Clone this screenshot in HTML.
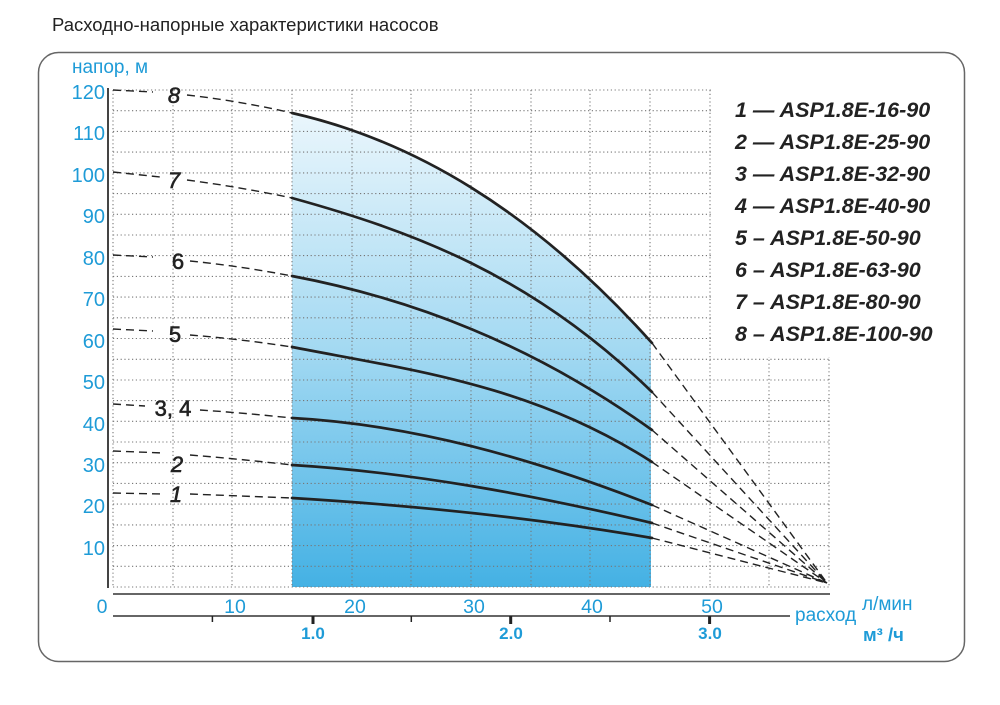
<!DOCTYPE html>
<html><head><meta charset="utf-8"><style>
html,body{margin:0;padding:0;background:#fff;}
svg{display:block;}
</style></head><body>
<svg width="1000" height="705" viewBox="0 0 1000 705" xmlns="http://www.w3.org/2000/svg">
<defs>
<linearGradient id="g" x1="0" y1="113" x2="0" y2="587" gradientUnits="userSpaceOnUse">
<stop offset="0" stop-color="#eaf6fc"/>
<stop offset="0.5" stop-color="#a3d9f2"/>
<stop offset="1" stop-color="#44b1e4"/>
</linearGradient>
</defs>
<text x="52" y="31" font-family="Liberation Sans, sans-serif" font-size="18.5" fill="#222">Расходно-напорные характеристики насосов</text>
<rect x="38.5" y="52.5" width="926" height="609" rx="20" ry="20" fill="none" stroke="#666" stroke-width="1.5"/>
<text x="72" y="73" font-family="Liberation Sans, sans-serif" font-size="19" fill="#1e9bd7">напор, м</text>

<!-- shaded region -->
<path d="M292,113 C412,140.2 532,209.3 652,343 L651,343 L651,587 L292,587 Z" fill="url(#g)"/>

<!-- grid -->
<g stroke="#777" stroke-width="1.1" stroke-dasharray="1.2 2.6" fill="none">
<path d="M113,90H829 M113,110.7H829 M113,131.4H829 M113,152.1H829 M113,172.9H829 M113,193.6H829 M113,214.3H829 M113,235H829 M113,255.6H829 M113,276.4H829 M113,297.1H829 M113,317.8H829 M113,338.5H829 M113,359.3H829 M113,380H829 M113,400.6H829 M113,421.3H829 M113,442H829 M113,462.7H829 M113,483.4H829 M113,504.1H829 M113,524.9H829 M113,545.6H829 M113,566.3H829 M113,587H829"/>
<path d="M113,90V587 M173,90V587 M232,90V587 M292,90V587 M352,90V587 M411,90V587 M471,90V587 M531,90V587 M590,90V587 M650,90V587 M710,90V587 M769,90V587 M829,90V587"/>
</g>

<!-- legend box -->
<rect x="711" y="84" width="252" height="273" fill="#fff"/>
<g font-family="Liberation Sans, sans-serif" font-size="21.5" font-style="italic" font-weight="bold" fill="#222">
<text x="735" y="117">1 — ASP1.8E-16-90</text>
<text x="735" y="149">2 — ASP1.8E-25-90</text>
<text x="735" y="181">3 — ASP1.8E-32-90</text>
<text x="735" y="213">4 — ASP1.8E-40-90</text>
<text x="735" y="245">5 – ASP1.8E-50-90</text>
<text x="735" y="277">6 – ASP1.8E-63-90</text>
<text x="735" y="309">7 – ASP1.8E-80-90</text>
<text x="735" y="341">8 – ASP1.8E-100-90</text>
</g>

<!-- axes -->
<line x1="108" y1="88" x2="108" y2="588" stroke="#444" stroke-width="2"/>
<line x1="113" y1="594" x2="830" y2="594" stroke="#333" stroke-width="1.6"/>
<line x1="113" y1="616" x2="790" y2="616" stroke="#333" stroke-width="1.6"/>
<g stroke="#222">
<line x1="212.4" y1="616" x2="212.4" y2="622" stroke-width="1.5"/>
<line x1="313" y1="616" x2="313" y2="624" stroke-width="3"/>
<line x1="411.3" y1="616" x2="411.3" y2="622" stroke-width="1.5"/>
<line x1="510.7" y1="616" x2="510.7" y2="624" stroke-width="3"/>
<line x1="610" y1="616" x2="610" y2="622" stroke-width="1.5"/>
<line x1="709.6" y1="616" x2="709.6" y2="624" stroke-width="3"/>
</g>

<!-- y labels -->
<g font-family="Liberation Sans, sans-serif" font-size="20" fill="#1e9bd7" text-anchor="end">
<text x="105" y="99">120</text>
<text x="105" y="140">110</text>
<text x="105" y="182">100</text>
<text x="105" y="223">90</text>
<text x="105" y="265">80</text>
<text x="105" y="306">70</text>
<text x="105" y="348">60</text>
<text x="105" y="389">50</text>
<text x="105" y="431">40</text>
<text x="105" y="472">30</text>
<text x="105" y="513">20</text>
<text x="105" y="555">10</text>
</g>
<!-- x labels -->
<g font-family="Liberation Sans, sans-serif" font-size="19.5" fill="#1e9bd7" text-anchor="middle">
<text x="102" y="613">0</text>
<text x="235" y="613">10</text>
<text x="355" y="613">20</text>
<text x="474" y="613">30</text>
<text x="592" y="613">40</text>
<text x="712" y="613">50</text>
</g>
<g font-family="Liberation Sans, sans-serif" font-size="17" font-weight="bold" fill="#1e9bd7" text-anchor="middle">
<text x="313" y="639">1.0</text>
<text x="511" y="639">2.0</text>
<text x="710" y="639">3.0</text>
</g>
<text x="795" y="621" font-family="Liberation Sans, sans-serif" font-size="19" fill="#1e9bd7">расход</text>
<text x="862" y="610" font-family="Liberation Sans, sans-serif" font-size="19" fill="#1e9bd7">л/мин</text>
<text x="863" y="641" font-family="Liberation Sans, sans-serif" font-size="18.5" font-weight="bold" fill="#1e9bd7">м³ /ч</text>

<!-- dashed parts -->
<g stroke="#222" stroke-width="1.4" stroke-dasharray="8 5" fill="none">
<path d="M113,90 L153,92 M187,95 Q240,101 292,113"/>
<path d="M113,172 L160,177 M187,180 Q240,187 292,198"/>
<path d="M113,255 L153,257 M190,261 Q240,266 292,276"/>
<path d="M113,329 L153,331 M190,335 Q240,339 292,347"/>
<path d="M113,404 L145,406 M200,410 Q245,413 292,418"/>
<path d="M113,451 L163,453 M190,455 Q240,459 292,465"/>
<path d="M113,493 L162,494 M190,494 Q240,496 292,498"/>
<path d="M652,343 L827,583"/>
<path d="M652,392 L827,583"/>
<path d="M652,430 L827,583"/>
<path d="M652,462 L827,583"/>
<path d="M652,505 L827,583"/>
<path d="M652,523 L827,583"/>
<path d="M652,538 L827,583"/>
</g>

<!-- solid curves -->
<g stroke="#222" stroke-width="2.7" fill="none" stroke-linejoin="round" stroke-linecap="round">
<path d="M292,113 C412,140.2 532,209.3 652,343"/>
<path d="M292,198 C412,231.2 532,274.8 652,392"/>
<path d="M292,276 C412,298.8 532,344.2 652,430"/>
<path d="M292,347 C412,370.3 532,384.7 652,462"/>
<path d="M292,418 C412,424.5 532,458 652,505"/>
<path d="M292,465 C412,472.3 532,494.7 652,523"/>
<path d="M292,498 C412,505.3 532,517.2 652,538"/>
</g>

<!-- curve labels -->
<g font-family="Liberation Sans, sans-serif" font-size="22" fill="#222" stroke="#222" stroke-width="0.6" text-anchor="middle">
<text x="174" y="103" font-style="italic">8</text>
<text x="174" y="188" font-style="italic">7</text>
<text x="178" y="269">6</text>
<text x="175" y="342">5</text>
<text x="173" y="416">3, 4</text>
<text x="177" y="472" font-style="italic">2</text>
<text x="176" y="502" font-style="italic">1</text>
</g>
</svg>
</body></html>
